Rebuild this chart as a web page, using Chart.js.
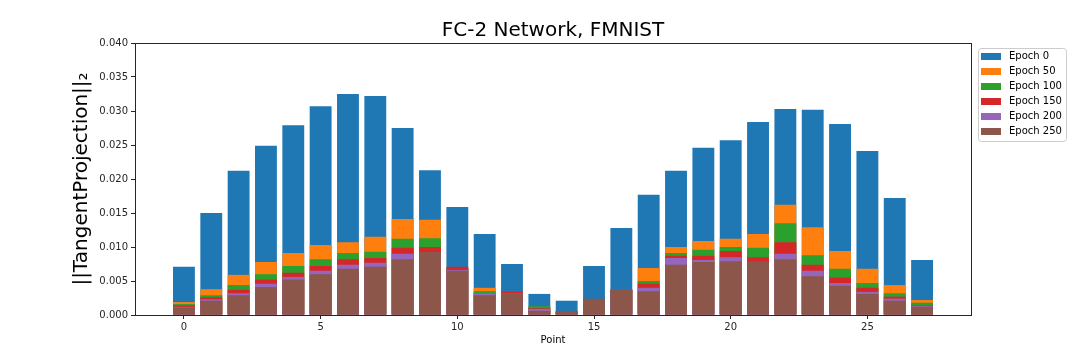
<!DOCTYPE html>
<html><head><meta charset="utf-8">
<script src="https://cdn.jsdelivr.net/npm/chart.js@4/dist/chart.umd.min.js"></script>
<style>html,body{margin:0;padding:0;background:#fff}#wrap{width:1080px;height:360px;position:relative}</style>
</head><body><div id="wrap"><canvas id="c" width="1080" height="360"></canvas></div>
<script>
const points = [0,1,2,3,4,5,6,7,8,9,10,11,12,13,14,15,16,17,18,19,20,21,22,23,24,25,26,27];
const epochLabels = ['Epoch 0','Epoch 50','Epoch 100','Epoch 150','Epoch 200','Epoch 250'];
const epoch0   = [0.0071,0.0150,0.0212,0.0249,0.0279,0.0307,0.0325,0.0322,0.0275,0.0213,0.0159,0.0119,0.0075,0.0031,0.0021,0.0072,0.0128,0.0177,0.0212,0.0246,0.0257,0.0284,0.0303,0.0302,0.0281,0.0241,0.0172,0.0081];
const epoch50  = [0.0019,0.0038,0.0059,0.0078,0.0091,0.0103,0.0107,0.0115,0.0141,0.0140,0.0068,0.0040,0.0033,0.0012,0.0005,0.0022,0.0037,0.0069,0.0100,0.0109,0.0112,0.0119,0.0162,0.0129,0.0094,0.0068,0.0044,0.0022];
const epoch100 = [0.0016,0.0029,0.0044,0.0060,0.0072,0.0082,0.0091,0.0093,0.0112,0.0113,0.0069,0.0035,0.0033,0.0013,0.0005,0.0022,0.0037,0.0050,0.0091,0.0096,0.0100,0.0099,0.0135,0.0088,0.0068,0.0047,0.0032,0.0018];
const epoch150 = [0.0014,0.0026,0.0037,0.0052,0.0062,0.0072,0.0082,0.0084,0.0099,0.0100,0.0071,0.0032,0.0034,0.0010,0.0005,0.0022,0.0037,0.0046,0.0087,0.0087,0.0094,0.0085,0.0107,0.0074,0.0055,0.0040,0.0027,0.0014];
const epoch200 = [0.0012,0.0023,0.0032,0.0046,0.0056,0.0065,0.0074,0.0077,0.0090,0.0092,0.0066,0.0032,0.0032,0.0009,0.0005,0.0022,0.0037,0.0040,0.0084,0.0081,0.0085,0.0078,0.0090,0.0065,0.0047,0.0034,0.0024,0.0013];
const epoch250 = [0.0011,0.0021,0.0029,0.0041,0.0052,0.0060,0.0068,0.0071,0.0082,0.0093,0.0065,0.0029,0.0032,0.0006,0.0006,0.0024,0.0038,0.0035,0.0074,0.0078,0.0079,0.0079,0.0082,0.0057,0.0043,0.0031,0.0021,0.0012];
const xTicks = [0,5,10,15,20,25];
const yTicks = [0,0.005,0.010,0.015,0.020,0.025,0.030,0.035,0.040];
const chartTitle = 'FC-2 Network, FMNIST';
const xTitle = 'Point';
const yTitle = '||TangentProjection||\u2082';

const series = [epoch0, epoch50, epoch100, epoch150, epoch200, epoch250];
const colors = ['#1f77b4','#ff7f0e','#2ca02c','#d62728','#9467bd','#8c564b'];
const INK = '#262626';
const FONT = "'DejaVu Sans', sans-serif";
Chart.defaults.font.family = FONT;
Chart.defaults.color = INK;

const datasets = series.map((vals, i) => ({
  label: epochLabels[i],
  data: points.map((p, j) => ({x: p, y: vals[j]})),
  backgroundColor: colors[i],
  borderWidth: 0,
  grouped: false,
  categoryPercentage: 1.0,
  barPercentage: 0.8,
  order: series.length - 1 - i
}));

const decor = {
  id: 'decor',
  afterDraw(chart) {
    const ctx = chart.ctx, a = chart.chartArea;
    ctx.save();
    // frame
    ctx.strokeStyle = INK; ctx.lineWidth = 1;
    ctx.strokeRect(Math.round(a.left) + 0.5, Math.round(a.top) + 0.5, Math.round(a.right - a.left), Math.round(a.bottom - a.top));
    // title
    ctx.fillStyle = '#000';
    ctx.font = '20px ' + FONT;
    ctx.textAlign = 'center'; ctx.textBaseline = 'middle';
    ctx.fillText(chartTitle, (a.left + a.right) / 2, 31);
    // legend
    const lx = 978, ly = 48, lw = 88, lh = 93, r = 3;
    ctx.fillStyle = 'rgba(255,255,255,0.8)';
    ctx.strokeStyle = '#cccccc';
    ctx.beginPath();
    ctx.moveTo(lx + r, ly + 0.5);
    ctx.arcTo(lx + lw + 0.5, ly + 0.5, lx + lw + 0.5, ly + lh, r);
    ctx.arcTo(lx + lw + 0.5, ly + lh + 0.5, lx, ly + lh + 0.5, r);
    ctx.arcTo(lx + 0.5, ly + lh + 0.5, lx + 0.5, ly, r);
    ctx.arcTo(lx + 0.5, ly + 0.5, lx + lw, ly + 0.5, r);
    ctx.closePath(); ctx.fill(); ctx.stroke();
    ctx.font = '10px ' + FONT;
    ctx.textAlign = 'left'; ctx.textBaseline = 'middle';
    chart.data.datasets.forEach((ds, i) => {
      const cy = 56.3 + i * 15;
      ctx.fillStyle = ds.backgroundColor;
      ctx.fillRect(981, Math.round(cy - 3.5), 20, 7);
      ctx.fillStyle = '#000';
      ctx.fillText(ds.label, 1009, cy + 0.5);
    });
    ctx.restore();
  }
};

new Chart(document.getElementById('c'), {
  type: 'bar',
  data: { datasets },
  plugins: [decor],
  options: {
    responsive: false,
    animation: false,
    devicePixelRatio: 1,
    layout: { padding: { left: 0, right: 109, top: 43, bottom: 0 } },
    plugins: { legend: { display: false }, tooltip: { enabled: false }, title: { display: false } },
    scales: {
      x: {
        type: 'linear',
        min: -1.79, max: 28.79,
        offset: false,
        grid: { display: true, offset: false, drawOnChartArea: false, drawTicks: true, tickLength: 4, color: INK },
        border: { display: false },
        ticks: { font: { size: 10 }, color: INK, padding: 2, maxRotation: 0 },
        afterBuildTicks: s => { s.ticks = xTicks.map(v => ({ value: v })); },
        afterFit: s => { s.height = 45; },
        title: { display: true, text: xTitle, font: { size: 10 }, color: '#000', padding: { top: 0, bottom: 14 } }
      },
      y: {
        type: 'linear',
        min: 0, max: 0.04,
        grid: { display: true, drawOnChartArea: false, drawTicks: true, tickLength: 4, color: INK },
        border: { display: false },
        ticks: { font: { size: 10 }, color: INK, padding: 3, callback: v => Number(v).toFixed(3) },
        afterBuildTicks: s => { s.ticks = yTicks.map(v => ({ value: v })); },
        afterFit: s => { s.width = 135; },
        title: { display: true, text: yTitle, font: { size: 20 }, color: '#000', padding: { top: 70, bottom: 0 } }
      }
    }
  }
});
</script>
</body></html>
